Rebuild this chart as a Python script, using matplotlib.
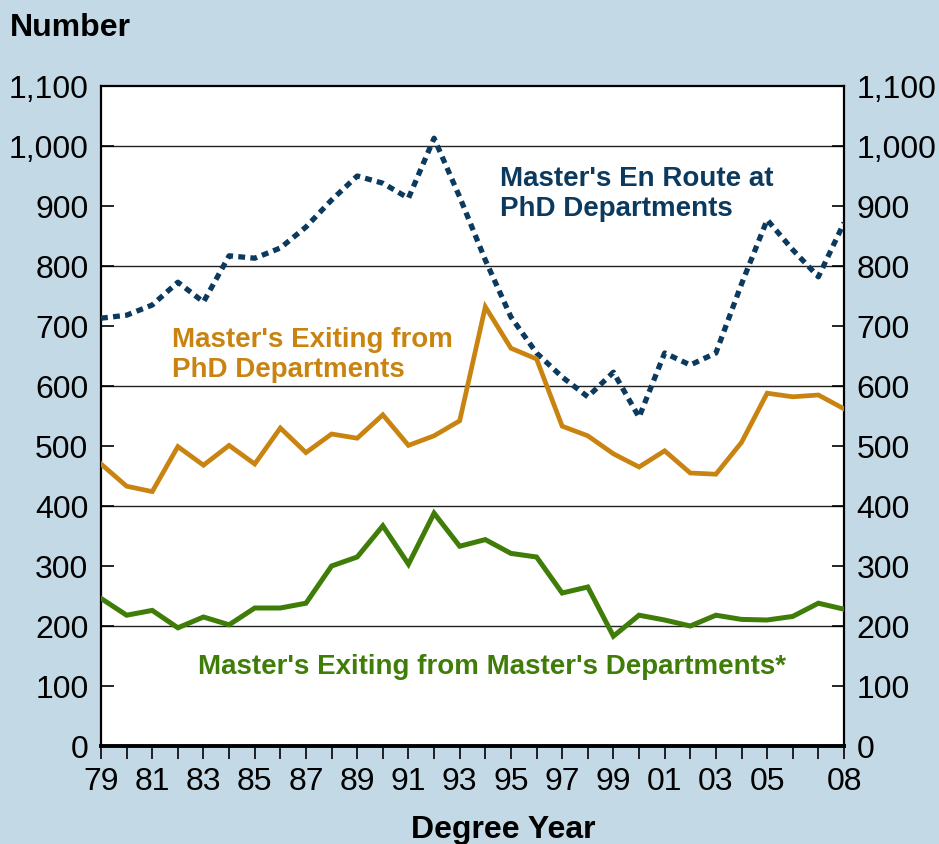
import matplotlib.pyplot as plt
from matplotlib.ticker import FuncFormatter, MultipleLocator

# --- данные
years = list(range(1979, 2009))
en_route = [713, 718, 735, 773, 740, 817, 813, 830, 865, 910,
            950, 938, 913, 1013, 915, 810, 715, 655, 615, 582,
            623, 548, 655, 635, 655, 770, 877, 827, 782, 872]
exit_phd = [470, 433, 424, 499, 468, 501, 470, 530, 489, 520,
            513, 552, 501, 517, 542, 732, 663, 645, 533, 517,
            487, 465, 492, 455, 453, 506, 588, 582, 585, 562]
exit_ms = [246, 218, 226, 197, 215, 202, 230, 230, 238, 300,
           315, 367, 303, 388, 333, 344, 321, 315, 255, 265,
           183, 218, 210, 200, 218, 211, 210, 216, 238, 228]
xtick_years = [1979, 1981, 1983, 1985, 1987, 1989, 1991, 1993, 1995,
               1997, 1999, 2001, 2003, 2005, 2008]

BG = "#c3dae6"
NAVY = "#0b3a5e"
ORANGE = "#c98310"
GREEN = "#3f7d08"

W, H = 939, 844

plt.rcParams["font.family"] = ["Liberation Sans", "DejaVu Sans"]

fig = plt.figure(figsize=(W / 100, H / 100), dpi=100, facecolor=BG)
ax = fig.add_axes([101 / W, 1 - 746 / H, 743 / W, 660 / H])
ax.set_facecolor("white")

ax.plot(years, en_route, color=NAVY, lw=3.8, linestyle=(0, (1.3, 1.0)),
        dash_capstyle="butt", zorder=3)
ax.plot(years, exit_phd, color=ORANGE, lw=3.4, solid_joinstyle="miter", zorder=3)
ax.plot(years, exit_ms, color=GREEN, lw=3.6, solid_joinstyle="miter", zorder=3)

ax.set_xlim(1979, 2008)
ax.set_ylim(0, 1100)

for v in range(200, 1100, 200):
    ax.axhline(v, color="#222222", lw=1.0, zorder=1)

fmt = FuncFormatter(lambda v, p: f"{int(v):,}")
ax.yaxis.set_major_locator(MultipleLocator(100))
ax.yaxis.set_major_formatter(fmt)
ax.tick_params(axis="y", direction="in", length=9, width=1.2, labelsize=23,
               pad=9, left=True, right=True, labelleft=True, labelright=True)

ax.set_xticks(years, minor=True)
ax.set_xticks(xtick_years)
ax.set_xticklabels([f"{y % 100:02d}" for y in xtick_years])
ax.tick_params(axis="x", which="both", direction="out", length=9, width=1.2,
               labelsize=23, pad=6)

for s in ("left", "right", "top"):
    ax.spines[s].set_linewidth(1.6)
ax.spines["bottom"].set_linewidth(2.8)


def label(x_px, y_px, s, color, size=20):
    # подпись по базовой линии, координаты в пикселях картинки
    fig.text(x_px / W, 1 - y_px / H, s, color=color, fontsize=size,
             fontweight="bold", ha="left", va="baseline")


label(500, 186, "Master's En Route at", NAVY)
label(500, 216, "PhD Departments", NAVY)
label(172, 347, "Master's Exiting from", ORANGE)
label(172, 377, "PhD Departments", ORANGE)
label(198, 674, "Master's Exiting from Master's Departments*", GREEN)

fig.text(10 / W, 1 - 28 / H, "Number", fontsize=23, fontweight="bold",
         ha="left", va="center")
fig.text(503 / W, 1 - 830 / H, "Degree Year", fontsize=23, fontweight="bold",
         ha="center", va="center")

fig.savefig("out.png", dpi=100, facecolor=BG)
